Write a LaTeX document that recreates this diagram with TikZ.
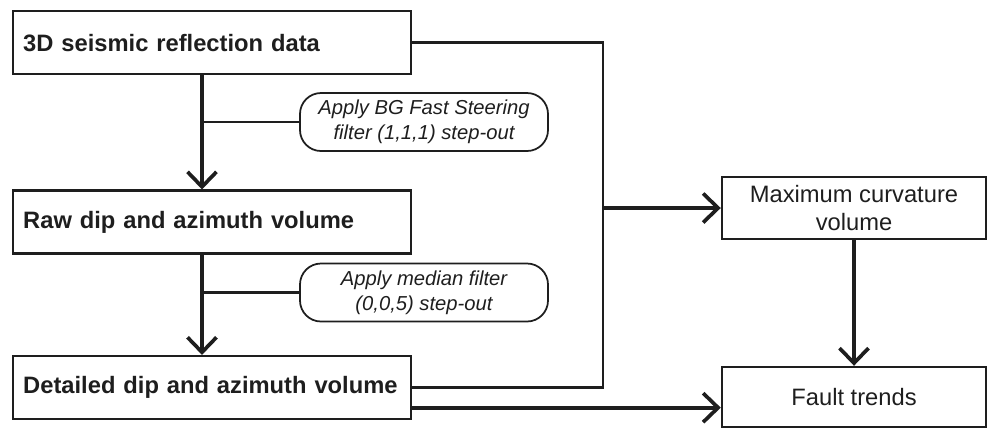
\documentclass[tikz,border=0pt]{standalone}
\usepackage{fontspec}
\setmainfont{Liberation Sans}
\usepackage{tikz}
\usetikzlibrary{positioning,arrows.meta,calc}
\definecolor{ink}{HTML}{1E1E1E}

\begin{document}
\begin{tikzpicture}[font=\fontsize{13.5}{16}\selectfont,node distance=2.0cm,
  stage/.style={draw=ink,line width=1.4pt,text=ink,inner xsep=0.2cm,
                text width=7.56cm,align=left,minimum height=1.26cm,font=\fontsize{13.5}{16}\selectfont\bfseries},
  flt/.style={draw=ink,line width=1.0pt,text=ink,rounded corners=0.42cm,
              minimum width=4.96cm,minimum height=1.16cm,align=center,
              font=\fontsize{11.5}{14}\selectfont\itshape},
  res/.style={draw=ink,line width=1.4pt,text=ink,minimum width=5.28cm,
              minimum height=1.24cm,align=center},
  arr/.style={-{Straight Barb[length=0.3cm,width=0.58cm]},ink,line width=2.1pt},
  lnk/.style={ink,line width=1.5pt}]
\useasboundingbox (0,0) rectangle (19.84,-8.56);
% left column
\node[stage,anchor=north west] (d0) at (0.24,-0.20) {3D seismic reflection data};
\node[stage,below=2.28cm of d0] (d1) {Raw dip and azimuth volume};
\node[stage,below=of d1] (d2) {Detailed dip and azimuth volume};
% filters
\node[flt] (f0) at (8.48,-2.44) {Apply BG Fast Steering\\filter (1,1,1) step-out};
\node[flt] (f1) at (8.48,-5.85) {Apply median filter\\(0,0,5) step-out};
% right column
\node[res] (mc) at (17.08,-4.16) {Maximum curvature\\volume};
\node[res,minimum height=1.20cm] (ft) at (17.08,-7.94) {Fault trends};
\coordinate (trunk) at (4.04,0);
\coordinate (bus) at (12.06,0);
% arrows
\draw[arr] (d0.south -| trunk)--(d1.north -| trunk);
\draw[lnk] (f0.west)--(f0.west -| trunk);
\draw[arr] (d1.south -| trunk)--(d2.north -| trunk);
\draw[lnk] (f1.west)--(f1.west -| trunk);
\draw[lnk] (d0.east)--(d0.east -| bus)--(d2.east -| bus)--(d2.east);
\draw[arr] (mc.west -| bus)--(mc.west);
\draw[arr] (mc.south)--(ft.north);
\draw[arr] ([yshift=-0.4cm]d2.east)--([yshift=-0.4cm]d2.east -| ft.west);
\end{tikzpicture}
\end{document}
